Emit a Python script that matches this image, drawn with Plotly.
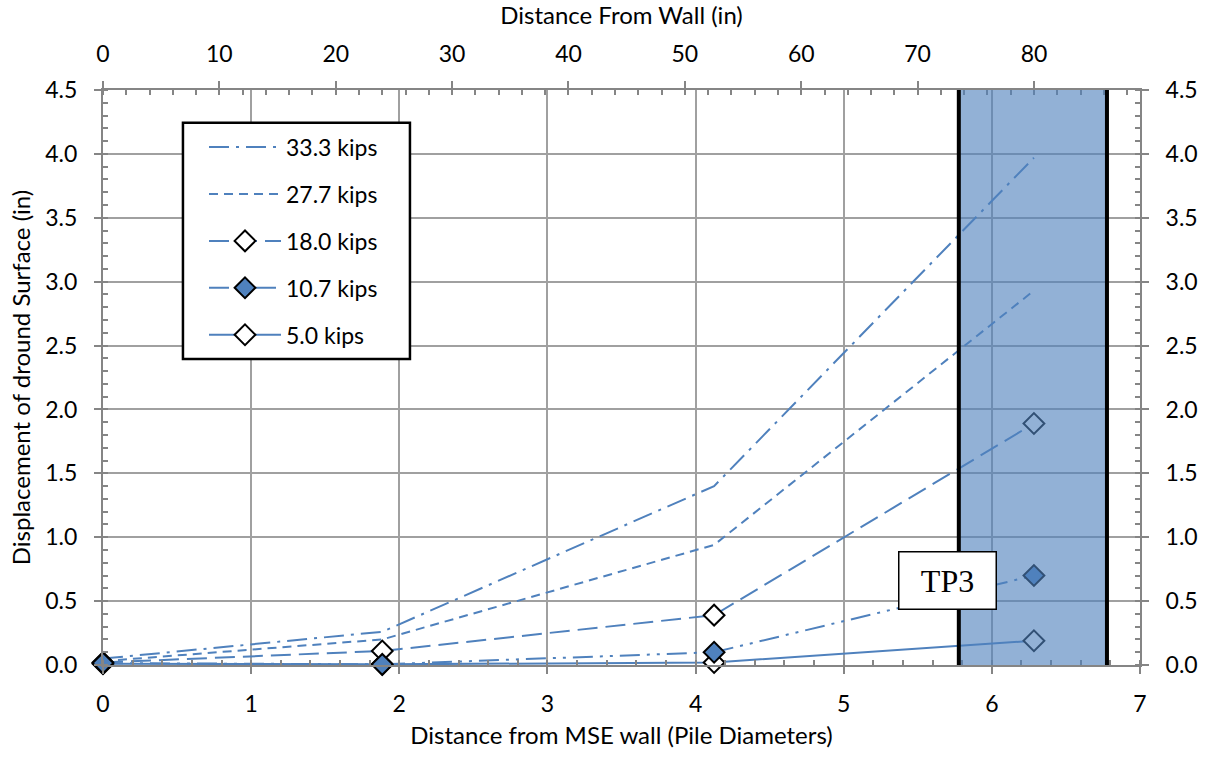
import plotly.graph_objects as go

# Data
PILE_DIAM_IN = 12.73
x_diam = [0.0, 1.885, 4.125, 6.284]
series_names = ["33.3 kips", "27.7 kips", "18.0 kips", "10.7 kips", "5.0 kips"]
y_333 = [0.05, 0.26, 1.40, 3.97]
y_277 = [0.03, 0.20, 0.94, 2.93]
y_180 = [0.02, 0.11, 0.39, 1.89]
y_107 = [0.015, 0.005, 0.10, 0.70]
y_050 = [0.01, 0.005, 0.02, 0.19]
top_ticks = [0, 10, 20, 30, 40, 50, 60, 70, 80]
tp3_band = [5.777, 6.777]

BLUE = "#4F81BD"
FONT = "Lato"
AX = "#858585"

fig = go.Figure()

styles = {
    "33.3 kips": dict(dash="20px,7px,3px,7px", mode="lines", marker=None),
    "27.7 kips": dict(dash="9px,6px", mode="lines", marker=None),
    "18.0 kips": dict(dash="20px,8px", mode="lines+markers",
                      marker=dict(symbol="diamond", size=16, color="white", line=dict(color="black", width=2))),
    "10.7 kips": dict(dash="20px,7px,3px,7px,3px,7px", mode="lines+markers",
                      marker=dict(symbol="diamond", size=16, color=BLUE, line=dict(color="black", width=2))),
    "5.0 kips": dict(dash="solid", mode="lines+markers",
                     marker=dict(symbol="diamond", size=16, color="white", line=dict(color="black", width=2))),
}
ydata = dict(zip(series_names, [y_333, y_277, y_180, y_107, y_050]))
draw_order = ["33.3 kips", "27.7 kips", "5.0 kips", "18.0 kips", "10.7 kips"]

for name in draw_order:
    st = styles[name]
    rank = series_names.index(name) + 1
    kw = dict(x=x_diam, y=ydata[name], name=name, mode=st["mode"],
              line=dict(color=BLUE, width=2, dash=st["dash"]),
              legendgroup=f"g{rank}", legendrank=rank, cliponaxis=False)
    if st["marker"] is not None:
        kw["marker"] = st["marker"]
    fig.add_trace(go.Scatter(**kw))

# invisible traces for secondary axes
fig.add_trace(go.Scatter(x=[0, 7 * PILE_DIAM_IN], y=[0, 0], xaxis="x2", yaxis="y",
                         mode="markers", marker=dict(opacity=0), showlegend=False, hoverinfo="skip"))
fig.add_trace(go.Scatter(x=[0, 7], y=[0, 4.5], xaxis="x", yaxis="y2",
                         mode="markers", marker=dict(opacity=0), showlegend=False, hoverinfo="skip"))

# TP3 band
fig.add_shape(type="rect", xref="x", yref="y", x0=tp3_band[0], x1=tp3_band[1], y0=0, y1=4.5,
              fillcolor="rgb(79,129,189)", opacity=0.62, line=dict(width=0), layer="above")
for xv in tp3_band:
    fig.add_shape(type="line", xref="x", yref="y", x0=xv, x1=xv, y0=0, y1=4.5,
                  line=dict(color="black", width=4), layer="above")

# legend frame
fig.add_shape(type="rect", xref="paper", yref="paper", x0=0.0771, x1=0.2960, y0=0.532, y1=0.943,
              fillcolor="white", line=dict(color="black", width=2.5), layer="above")

fig.add_annotation(x=5.70, y=0.665, xref="x", yref="y", text="TP3", showarrow=False,
                   font=dict(family="Liberation Serif", size=32, color="black"),
                   bgcolor="white", bordercolor="black", borderwidth=1.5,
                   borderpad=8, width=80, height=40)

TICKF = dict(family=FONT, size=23, color="black")
TITLEF = dict(family=FONT, size=24, color="black")
axis_common = dict(showline=True, linecolor=AX, linewidth=2, tickfont=TICKF, zeroline=False,
                   ticks="outside", ticklen=7, tickcolor=AX, tickwidth=1.5)

fig.update_layout(
    width=1212, height=757,
    margin=dict(l=103, r=72, t=90, b=90),
    paper_bgcolor="white", plot_bgcolor="white",
    font=dict(family=FONT, color="black"),
    showlegend=True,
    legend=dict(x=0.0974, y=0.938, xanchor="left", yanchor="top",
                bgcolor="rgba(0,0,0,0)", borderwidth=0,
                font=dict(family=FONT, size=23, color="black"),
                traceorder="grouped", tracegroupgap=14, itemwidth=72),
    xaxis=dict(range=[0, 7], dtick=1, tick0=0, showgrid=True, gridcolor="#A0A0A0", gridwidth=1.5,
               minor=dict(dtick=0.2, ticks="inside", ticklen=5, tickcolor=AX, showgrid=False),
               ticklabelstandoff=10,
               title=dict(text="Distance from MSE wall (Pile Diameters)", font=TITLEF, standoff=12),
               **axis_common),
    xaxis2=dict(overlaying="x", side="top", range=[0, 7 * PILE_DIAM_IN], tickvals=top_ticks,
                showgrid=False, ticklabelstandoff=10,
                minor=dict(dtick=2, ticks="inside", ticklen=5, tickcolor=AX, showgrid=False),
                title=dict(text="Distance From Wall (in)", font=TITLEF, standoff=10),
                **axis_common),
    yaxis=dict(range=[0, 4.5], dtick=0.5, tickformat=".1f", showgrid=True, gridcolor="#A0A0A0",
               gridwidth=1.5, ticklabelstandoff=12,
               minor=dict(dtick=0.1, ticks="inside", ticklen=5, tickcolor=AX, showgrid=False),
               title=dict(text="Displacement of dround Surface (in)", font=TITLEF, standoff=8),
               **axis_common),
    yaxis2=dict(overlaying="y", side="right", range=[0, 4.5], dtick=0.5, tickformat=".1f",
                showgrid=False, ticklabelstandoff=12,
                minor=dict(dtick=0.1, ticks="inside", ticklen=5, tickcolor=AX, showgrid=False),
                **axis_common),
)

fig.write_html("out.html")
